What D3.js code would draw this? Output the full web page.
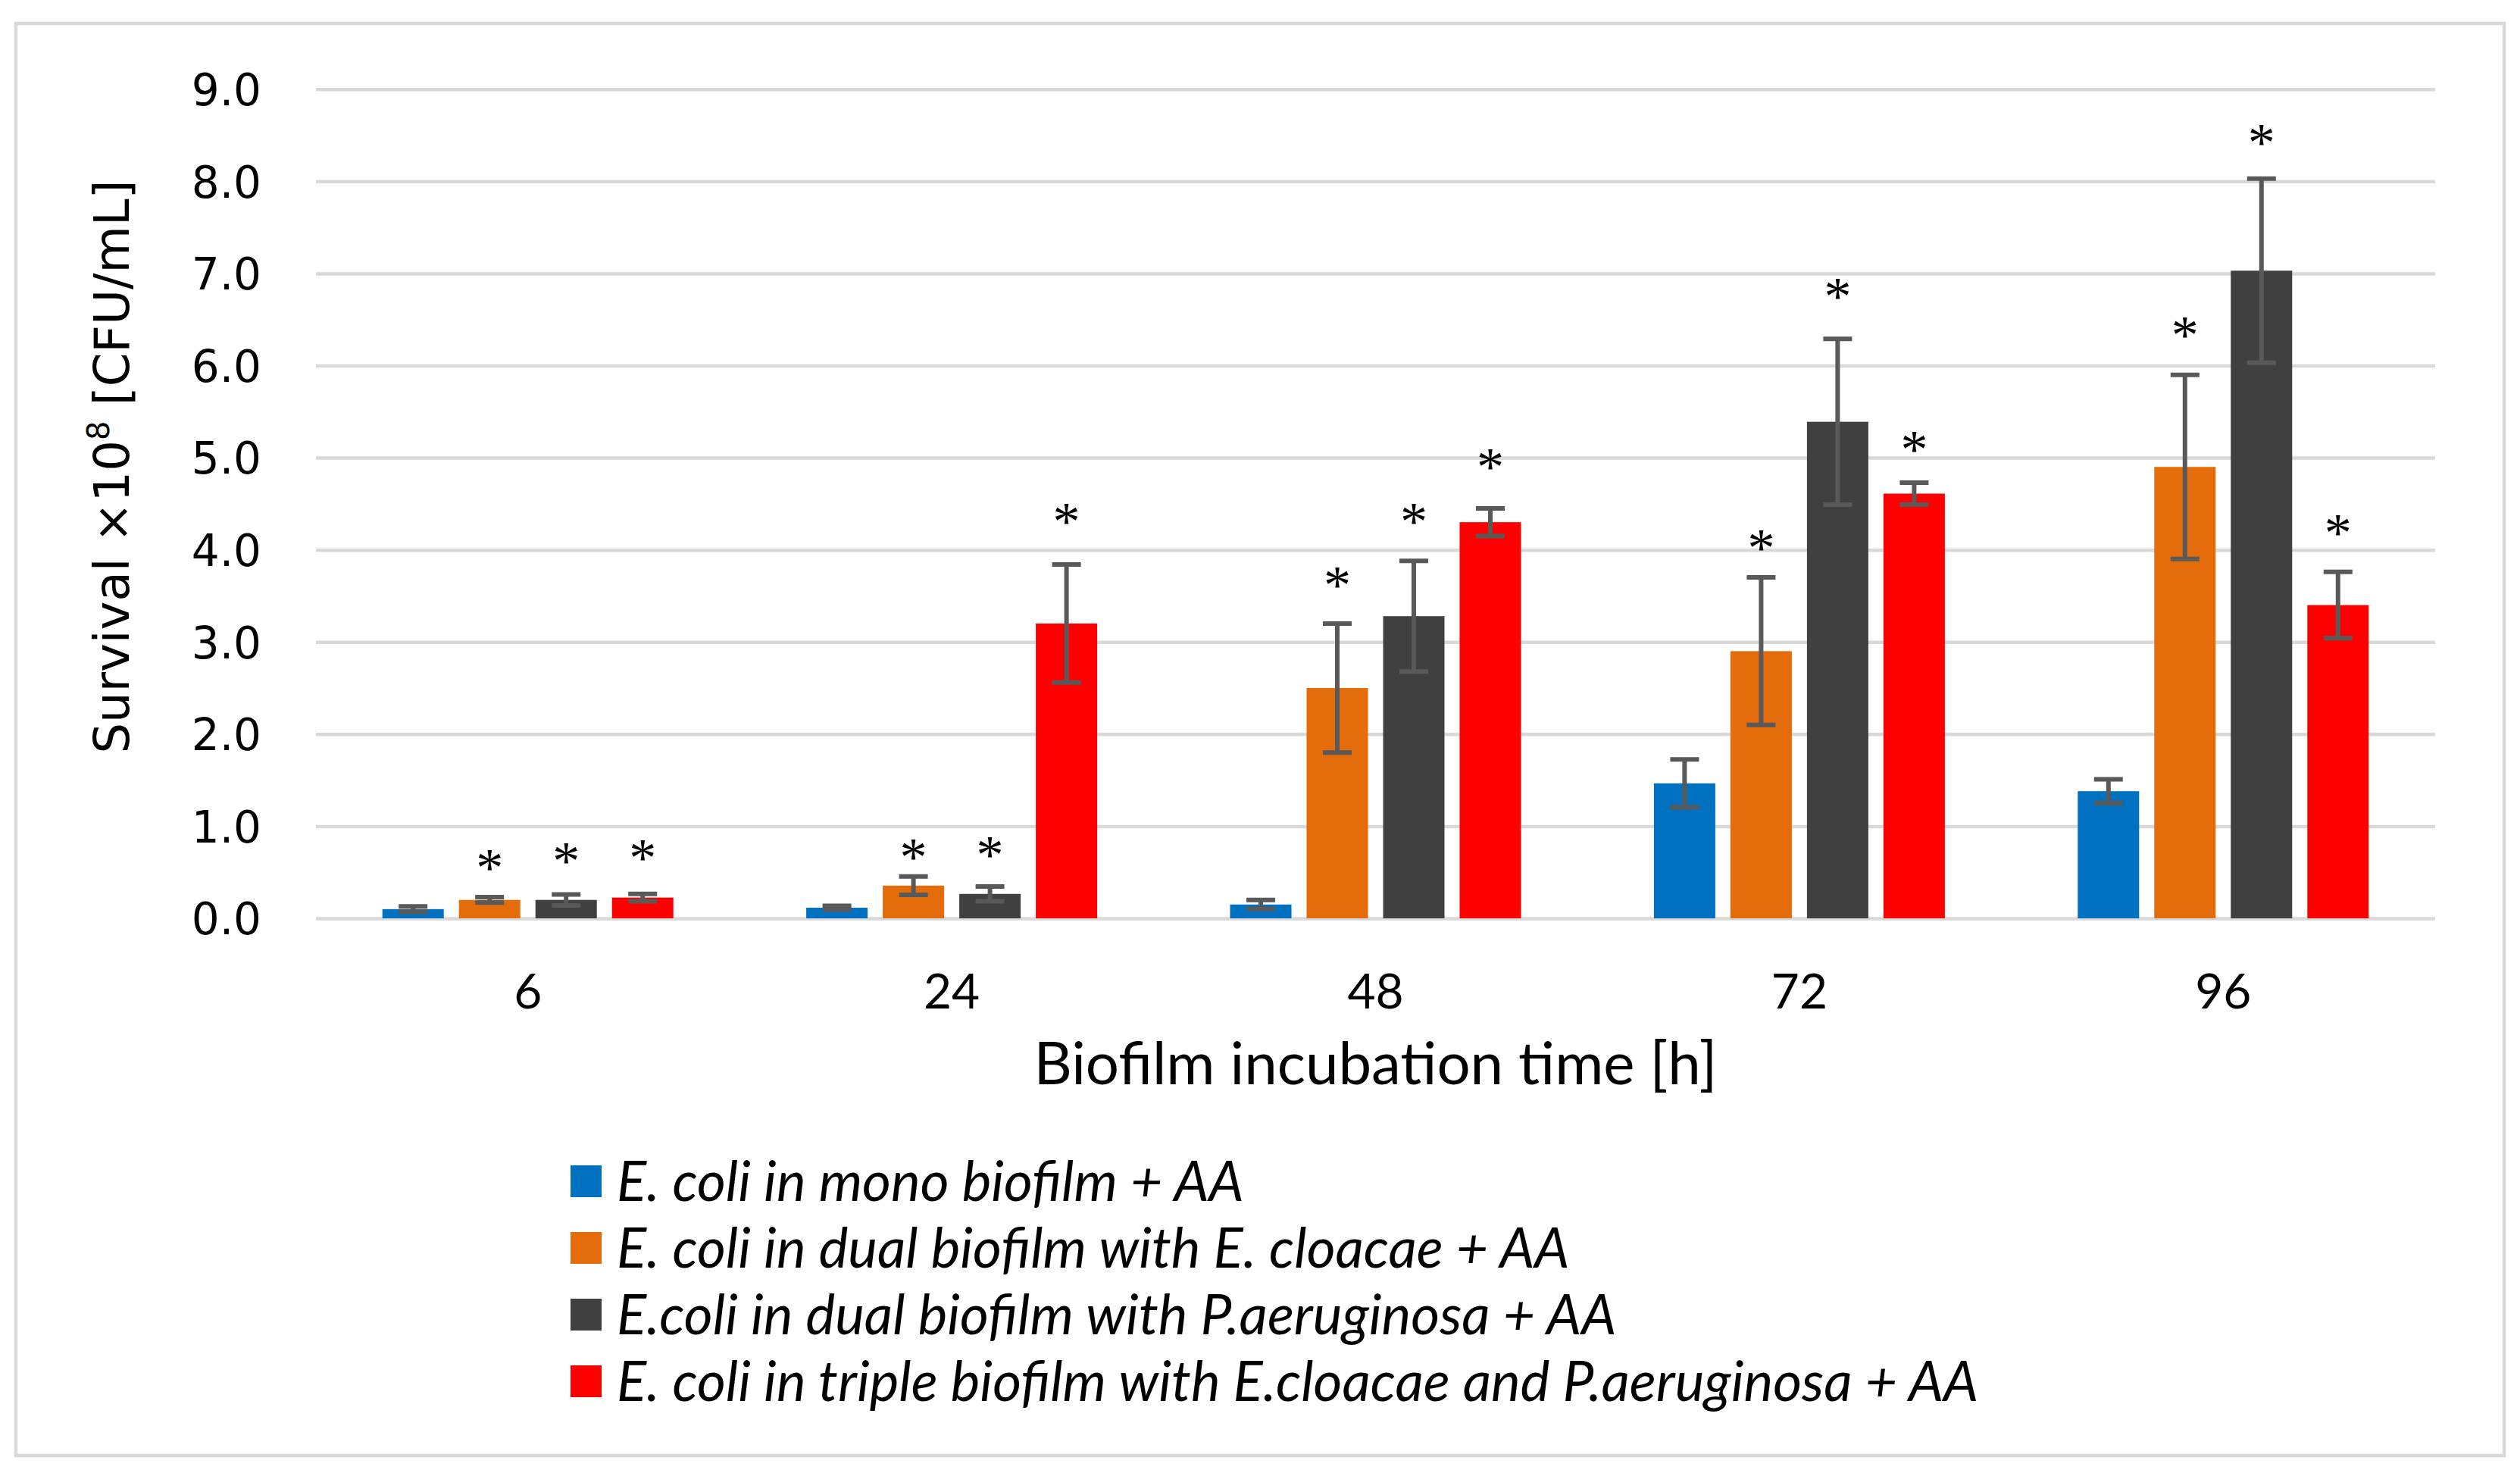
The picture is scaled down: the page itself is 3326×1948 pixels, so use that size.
<!DOCTYPE html>
<html>
<head>
<meta charset="utf-8">
<script src="https://cdn.jsdelivr.net/npm/d3@7"></script>
<style>
  html, body { margin: 0; padding: 0; background: #fff; }
  svg { display: block; }
</style>
</head>
<body>
<svg id="chart" width="3326" height="1948"></svg>
<script>
// categories (incubation time, h)
var categories = ["6", "24", "48", "72", "96"];

var seriesNames = [
  "E. coli in mono biofilm + AA",
  "E. coli in dual biofilm with E. cloacae + AA",
  "E.coli in dual biofilm with P.aeruginosa + AA",
  "E. coli in triple biofilm with E.cloacae and P.aeruginosa + AA"
];
var seriesColors = ["#0070C0", "#E46C0A", "#404040", "#FF0000"];

// means (x10^8 CFU/mL)
var monoValues   = [0.10, 0.115, 0.15, 1.465, 1.38];
var dualEcValues = [0.20, 0.355, 2.50, 2.90, 4.90];
var dualPaValues = [0.20, 0.265, 3.28, 5.39, 7.03];
var tripleValues = [0.225, 3.20, 4.30, 4.61, 3.40];

// error (+/-)
var monoErr   = [0.03, 0.02, 0.05, 0.26, 0.13];
var dualEcErr = [0.03, 0.10, 0.70, 0.80, 1.00];
var dualPaErr = [0.06, 0.08, 0.60, 0.90, 1.00];
var tripleErr = [0.04, 0.64, 0.15, 0.12, 0.36];

// level of the significance asterisk (null = none)
var monoStar   = [null, null, null, null, null];
var dualEcStar = [0.63, 0.75, 3.70, 4.10, 6.41];
var dualPaStar = [0.71, 0.77, 4.39, 6.83, 8.50];
var tripleStar = [0.74, 4.39, 4.98, 5.17, 4.27];

var yTicks = [0, 1, 2, 3, 4, 5, 6, 7, 8, 9];

var allValues = [monoValues, dualEcValues, dualPaValues, tripleValues];
var allErr = [monoErr, dualEcErr, dualPaErr, tripleErr];
var allStar = [monoStar, dualEcStar, dualPaStar, tripleStar];

var data = [];
categories.forEach(function(c, i) {
  seriesNames.forEach(function(s, j) {
    data.push({ cat: c, series: j, value: allValues[j][i], err: allErr[j][i], star: allStar[j][i] });
  });
});

var svg = d3.select("#chart");
var W = 3326, H = 1948;
var plot = { left: 417, right: 3214, top: 117.7, bottom: 1212 };

svg.append("rect").attr("width", W).attr("height", H).attr("fill", "#fff");
// outer chart frame
svg.append("rect")
  .attr("x", 21).attr("y", 31).attr("width", 3284).attr("height", 1890)
  .attr("fill", "none").attr("stroke", "#D9D9D9").attr("stroke-width", 4.5);

var x0 = d3.scaleBand().domain(categories).range([plot.left, plot.right]);
var groupW = 384;
var x1 = d3.scaleBand().domain(d3.range(seriesNames.length)).range([0, groupW]).paddingInner(0.198);
var y = d3.scaleLinear().domain([0, 9]).range([plot.bottom, plot.top]);

// gridlines + y labels
var yAxis = svg.append("g")
  .attr("transform", "translate(" + plot.left + ",0)")
  .call(d3.axisLeft(y).tickValues(yTicks).tickFormat(d3.format(".1f"))
    .tickSize(-(plot.right - plot.left)).tickPadding(72));
yAxis.select(".domain").remove();
yAxis.selectAll(".tick line").attr("stroke", "#D9D9D9").attr("stroke-width", 4.5);
yAxis.selectAll(".tick text")
  .attr("font-family", "DejaVu Sans").attr("font-size", 58).attr("fill", "#000")
  .attr("dy", "0.36em");

// x labels
var xAxis = svg.append("g")
  .attr("transform", "translate(0," + plot.bottom + ")")
  .call(d3.axisBottom(x0).tickSize(0).tickPadding(74));
xAxis.select(".domain").remove();
xAxis.selectAll(".tick text")
  .attr("font-family", "Lato").attr("font-size", 64).attr("fill", "#000");

// bars
var groupOff = (x0.bandwidth() - groupW) / 2;
var bx = function(d) { return x0(d.cat) + groupOff + x1(d.series); };

svg.append("g").selectAll("rect")
  .data(data).enter().append("rect")
  .attr("x", bx)
  .attr("y", function(d) { return y(d.value); })
  .attr("width", x1.bandwidth())
  .attr("height", function(d) { return y(0) - y(d.value); })
  .attr("fill", function(d) { return seriesColors[d.series]; });

// error bars
var capW = 38;
var eb = svg.append("g").attr("stroke", "#595959").attr("stroke-width", 6).attr("fill", "none");
var ebs = eb.selectAll("g").data(data).enter().append("g");
ebs.append("line")
  .attr("x1", function(d) { return bx(d) + x1.bandwidth() / 2; })
  .attr("x2", function(d) { return bx(d) + x1.bandwidth() / 2; })
  .attr("y1", function(d) { return y(d.value + d.err); })
  .attr("y2", function(d) { return y(d.value - d.err); });
[1, -1].forEach(function(sgn) {
  ebs.append("line")
    .attr("x1", function(d) { return bx(d) + x1.bandwidth() / 2 - capW / 2; })
    .attr("x2", function(d) { return bx(d) + x1.bandwidth() / 2 + capW / 2; })
    .attr("y1", function(d) { return y(d.value + sgn * d.err); })
    .attr("y2", function(d) { return y(d.value + sgn * d.err); });
});

// asterisks
svg.append("g").selectAll("text")
  .data(data.filter(function(d) { return d.star != null; }))
  .enter().append("text")
  .attr("x", function(d) { return bx(d) + x1.bandwidth() / 2; })
  .attr("y", function(d) { return y(d.star); })
  .attr("dy", "0.47em")
  .attr("text-anchor", "middle")
  .attr("font-family", "Liberation Serif").attr("font-size", 72).attr("fill", "#000")
  .text("*");

// axis titles
var yt = svg.append("text")
  .attr("transform", "translate(170,616) rotate(-90)")
  .attr("text-anchor", "middle")
  .attr("font-family", "DejaVu Sans").attr("font-size", 64).attr("fill", "#000");
yt.append("tspan").text("Survival \u00D710");
yt.append("tspan").attr("font-size", 40).attr("dy", -26).text("8");
yt.append("tspan").attr("dy", 26).text(" [CFU/mL]");

svg.append("text")
  .attr("x", (plot.left + plot.right) / 2).attr("y", 1431)
  .attr("text-anchor", "middle")
  .attr("font-family", "Lato").attr("font-size", 78).attr("fill", "#000")
  .text("Biofilm incubation time [h]");

// legend
var lg = svg.append("g").selectAll("g")
  .data(seriesNames).enter().append("g")
  .attr("transform", function(d, i) { return "translate(753," + (1559 + i * 88) + ")"; });
lg.append("rect")
  .attr("x", 0).attr("y", -21).attr("width", 41).attr("height", 42)
  .attr("fill", function(d, i) { return seriesColors[i]; });
lg.append("text")
  .attr("x", 61).attr("y", 0).attr("dy", "0.35em")
  .attr("font-family", "Lato").attr("font-style", "italic").attr("font-size", 73).attr("fill", "#000")
  .text(function(d) { return d; });
</script>
</body>
</html>
